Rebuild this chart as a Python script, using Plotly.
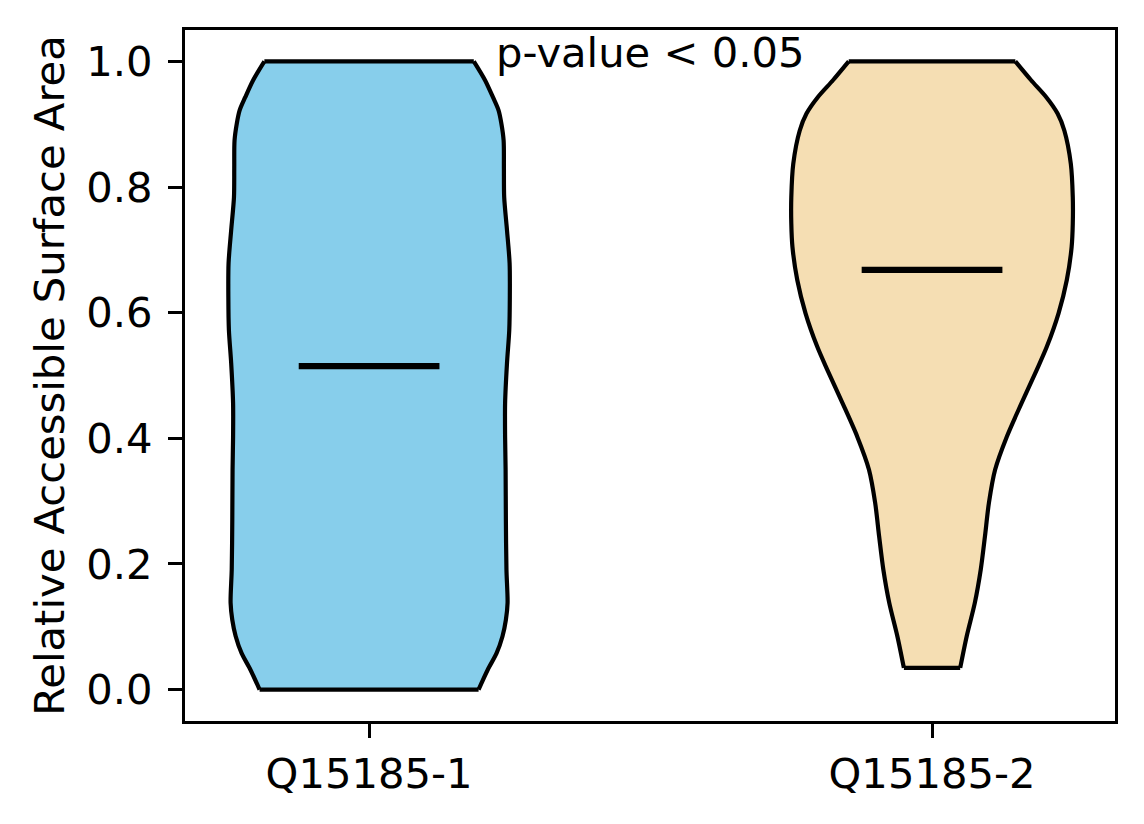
import plotly.graph_objects as go

categories = ["Q15185-1", "Q15185-2"]
positions = [1, 2]

# violin outline profiles: y level and half-width (x units)
v1_y = [1.0, 0.970, 0.943, 0.922, 0.901, 0.874, 0.830, 0.784, 0.731, 0.679, 0.625, 0.572, 0.52,
        0.456, 0.402, 0.35, 0.27, 0.191, 0.138, 0.111, 0.085, 0.058, 0.032, 0.0]
v1_hw = [0.186, 0.206, 0.220, 0.230, 0.235, 0.239, 0.2395, 0.240, 0.245, 0.2496, 0.250, 0.249, 0.245,
         0.2416, 0.2416, 0.2425, 0.243, 0.244, 0.246, 0.243, 0.237, 0.2265, 0.211, 0.1945]

v2_y = [1.0, 0.970, 0.943, 0.917, 0.89, 0.837, 0.784, 0.742, 0.705, 0.652, 0.599, 0.546,
        0.509, 0.456, 0.403, 0.35, 0.297, 0.244, 0.191, 0.138, 0.085, 0.0345]
v2_hw = [0.148, 0.176, 0.203, 0.223, 0.235, 0.2465, 0.250, 0.250, 0.248, 0.2394, 0.2247, 0.204,
         0.186, 0.159, 0.133, 0.112, 0.101, 0.094, 0.0865, 0.076, 0.0616, 0.050]

medians = [0.515, 0.668]
median_half = 0.125
colors = ["#87CEEB", "#F5DEB3"]
annotation_text = "p-value < 0.05"

FONT = "DejaVu Sans"
FS = 41.7
EDGE_W = 4.2

fig = go.Figure()

profiles = [(v1_y, v1_hw), (v2_y, v2_hw)]
for pos, (ys, hws), col in zip(positions, profiles, colors):
    left_x = [pos - h for h in hws]
    right_x = [pos + h for h in hws]
    # left side
    fig.add_trace(go.Scatter(x=left_x, y=ys, mode="lines",
                             line=dict(color="black", width=EDGE_W, shape="spline", smoothing=0.8),
                             hoverinfo="skip", showlegend=False))
    # right side, filled to the left side
    fig.add_trace(go.Scatter(x=right_x, y=ys, mode="lines", fill="tonextx", fillcolor=col,
                             line=dict(color="black", width=EDGE_W, shape="spline", smoothing=0.8),
                             hoverinfo="skip", showlegend=False))
    # flat top and bottom edges
    fig.add_trace(go.Scatter(x=[left_x[0], right_x[0], None, left_x[-1], right_x[-1]],
                             y=[ys[0], ys[0], None, ys[-1], ys[-1]], mode="lines",
                             line=dict(color="black", width=EDGE_W),
                             hoverinfo="skip", showlegend=False))

for pos, med in zip(positions, medians):
    fig.add_trace(go.Scatter(x=[pos - median_half, pos + median_half], y=[med, med],
                             mode="lines", line=dict(color="black", width=6.2),
                             hoverinfo="skip", showlegend=False))

fig.add_annotation(x=1.5, y=1.0, text=annotation_text, showarrow=False,
                   xanchor="center", yanchor="middle", yshift=9,
                   font=dict(family=FONT, size=FS, color="black"))

axis_common = dict(showline=True, linecolor="black", linewidth=3.3, mirror=True,
                   ticks="outside", ticklen=14, tickwidth=3.3, tickcolor="black",
                   showgrid=False, zeroline=False,
                   tickfont=dict(family=FONT, size=FS, color="black"))

fig.update_xaxes(range=[0.673, 2.325], tickvals=positions, ticktext=categories, **axis_common)
fig.update_yaxes(range=[-0.05, 1.05], tickvals=[0, 0.2, 0.4, 0.6, 0.8, 1.0],
                 ticktext=["0.0", "0.2", "0.4", "0.6", "0.8", "1.0"],
                 ticklabelstandoff=7,
                 title=dict(text="Relative Accessible Surface Area",
                            font=dict(family=FONT, size=FS, color="black"), standoff=9),
                 **axis_common)

fig.update_layout(width=1144, height=824, plot_bgcolor="white", paper_bgcolor="white",
                  margin=dict(l=177, r=37, t=22, b=111, autoexpand=False),
                  font=dict(family=FONT, size=FS, color="black"))

fig.write_html("out.html")
